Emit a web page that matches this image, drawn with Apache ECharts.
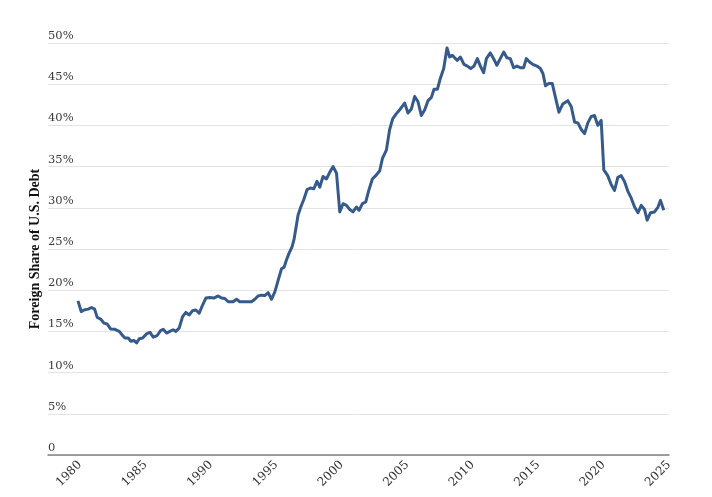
<!DOCTYPE html>
<html>
<head>
<meta charset="utf-8">
<script src="https://cdn.jsdelivr.net/npm/echarts@6/dist/echarts.min.js"></script>
<style>html,body{margin:0;padding:0;background:#fff}#c{width:712px;height:497px}</style>
</head>
<body>
<div id="c"></div>
<script>
const yTitle = "Foreign Share of U.S. Debt";
const xTickYears = [1980,1985,1990,1995,2000,2005,2010,2015,2020,2025];
const years = [1979.85,1980.10,1980.31,1980.63,1980.89,1981.12,1981.32,1981.58,1981.83,1982.08,1982.34,1982.67,1983.00,1983.26,1983.44,1983.69,1983.89,1984.12,1984.33,1984.53,1984.79,1985.09,1985.34,1985.60,1985.90,1986.16,1986.36,1986.62,1986.87,1987.12,1987.33,1987.58,1987.84,1988.09,1988.34,1988.60,1988.85,1989.11,1989.37,1989.62,1989.92,1990.23,1990.56,1990.82,1991.07,1991.32,1991.70,1991.96,1992.21,1992.60,1993.11,1993.36,1993.61,1993.87,1994.12,1994.38,1994.63,1994.89,1995.14,1995.40,1995.60,1995.78,1995.98,1996.21,1996.36,1996.54,1996.66,1996.87,1997.10,1997.35,1997.61,1997.86,1998.11,1998.32,1998.57,1998.83,1999.08,1999.34,1999.60,1999.85,2000.10,2000.36,2000.61,2000.86,2001.12,2001.32,2001.58,2001.83,2002.08,2002.34,2002.65,2002.90,2003.11,2003.41,2003.66,2003.89,2004.16,2004.43,2004.81,2005.06,2005.32,2005.57,2005.82,2006.08,2006.34,2006.59,2006.85,2007.05,2007.31,2007.53,2007.79,2008.04,2008.24,2008.45,2008.63,2008.83,2009.06,2009.34,2009.60,2009.85,2010.10,2010.36,2010.59,2010.84,2011.05,2011.35,2011.60,2011.85,2012.11,2012.37,2012.62,2012.88,2013.13,2013.38,2013.64,2013.89,2014.10,2014.35,2014.60,2014.91,2015.17,2015.37,2015.57,2015.82,2016.08,2016.34,2016.59,2016.89,2017.27,2017.53,2017.79,2018.04,2018.30,2018.55,2018.80,2019.06,2019.31,2019.56,2019.82,2020.02,2020.32,2020.59,2020.84,2021.09,2021.35,2021.60,2021.86,2022.11,2022.37,2022.63,2022.88,2023.13,2023.33,2023.59,2023.89,2024.15,2024.35,2024.60];
const shares = [18.7,17.4,17.6,17.7,17.9,17.7,16.7,16.5,16.0,15.9,15.3,15.25,15.0,14.5,14.2,14.2,13.8,13.9,13.6,14.1,14.2,14.7,14.9,14.3,14.5,15.1,15.25,14.8,15.0,15.2,15.0,15.4,16.8,17.3,17.0,17.5,17.6,17.2,18.2,19.05,19.1,19.05,19.3,19.05,19.0,18.6,18.6,18.9,18.6,18.6,18.6,18.9,19.3,19.4,19.35,19.7,18.9,19.8,21.2,22.6,22.8,23.7,24.5,25.3,26.2,27.9,29.1,30.1,31.0,32.2,32.4,32.3,33.2,32.5,33.8,33.5,34.3,35.0,34.2,29.5,30.5,30.3,29.8,29.5,30.1,29.7,30.5,30.7,32.2,33.5,34.0,34.5,36.0,37.0,39.5,40.8,41.4,41.9,42.7,41.5,42.0,43.5,42.9,41.2,41.9,43.0,43.4,44.4,44.4,45.7,46.9,49.4,48.3,48.5,48.2,47.9,48.3,47.4,47.2,46.9,47.2,48.1,47.2,46.4,48.1,48.8,48.1,47.3,48.1,48.9,48.2,48.1,47.0,47.2,47.0,47.0,48.1,47.7,47.4,47.2,46.9,46.3,44.8,45.1,45.1,43.3,41.6,42.6,43.0,42.3,40.4,40.3,39.5,39.0,40.3,41.1,41.2,40.0,40.6,34.6,33.9,32.8,32.1,33.7,33.9,33.2,32.0,31.2,30.1,29.4,30.3,29.8,28.5,29.4,29.5,30.06,30.9,29.7];

const seriesData = years.map((y, i) => [y, shares[i]]);
const chart = echarts.init(document.getElementById('c'), null, {renderer: 'canvas'});
chart.setOption({
  animation: false,
  backgroundColor: '#ffffff',
  grid: {left: 48, right: 43, top: 43, bottom: 42},
  xAxis: {
    type: 'value',
    min: 1977.56,
    max: 2025,
    axisLine: {show: true, lineStyle: {color: '#808080', width: 1.5}},
    axisTick: {show: false},
    splitLine: {show: false},
    axisLabel: {
      customValues: xTickYears,
      rotate: 45,
      margin: 8,
      color: '#333',
      fontFamily: 'DejaVu Serif',
      fontSize: 12,
      formatter: v => String(v)
    }
  },
  yAxis: {
    type: 'value',
    min: 0,
    max: 50,
    interval: 5,
    name: yTitle,
    nameLocation: 'middle',
    nameGap: 6,
    nameMoveOverlap: false,
    nameTextStyle: {fontFamily: 'Liberation Serif', fontWeight: 'bold', fontSize: 14, color: '#111'},
    axisLine: {show: false},
    axisTick: {show: false},
    splitLine: {lineStyle: {color: '#e4e4e4', width: 1}},
    axisLabel: {
      inside: true,
      margin: 0,
      align: 'left',
      verticalAlign: 'bottom',
      padding: [0, 0, 1, 0],
      color: '#3a3a3a',
      fontFamily: 'DejaVu Serif',
      fontSize: 11.5,
      formatter: v => v === 0 ? '0' : v + '%'
    }
  },
  series: [{
    type: 'line',
    data: seriesData,
    showSymbol: false,
    symbol: 'none',
    lineStyle: {color: '#365a8b', width: 3, join: 'round'},
    z: 3
  }]
});
</script>
</body>
</html>
